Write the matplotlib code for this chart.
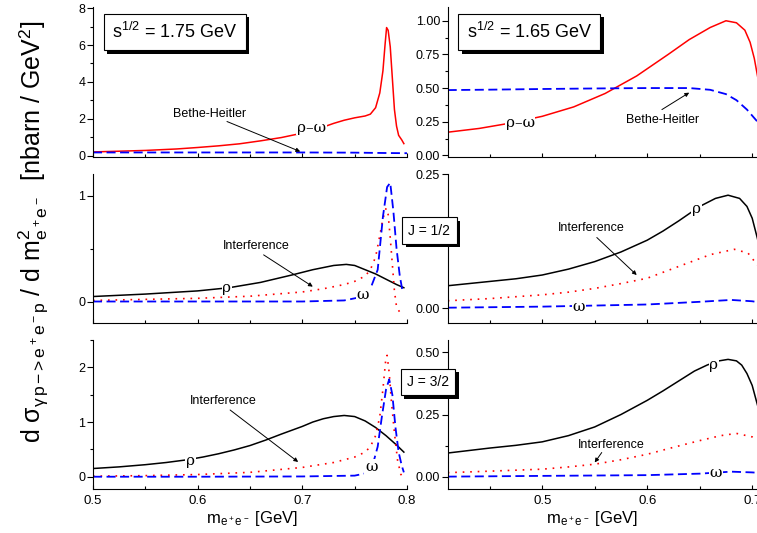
import matplotlib
matplotlib.use("Agg")
import matplotlib.pyplot as plt
import matplotlib.patheffects as pe
from matplotlib.ticker import MultipleLocator, FormatStrFormatter

plt.rcParams['font.family'] = ['Liberation Sans', 'DejaVu Sans']
plt.rcParams['mathtext.fontset'] = 'custom'
plt.rcParams['mathtext.rm'] = 'Liberation Sans'
plt.rcParams['mathtext.it'] = 'Liberation Sans'
plt.rcParams['mathtext.bf'] = 'Liberation Sans:bold'

# ---------------- data ----------------
# Panel A: sqrt(s)=1.75 GeV, total
a_rw_x = [0.50, 0.52, 0.55, 0.58, 0.60, 0.62, 0.64, 0.66, 0.68, 0.70, 0.72, 0.73, 0.74, 0.75, 0.76, 0.765,
          0.77, 0.774, 0.777, 0.779, 0.7805, 0.782, 0.784, 0.786, 0.788, 0.790, 0.792, 0.795, 0.797]
a_rw_y = [0.20, 0.23, 0.28, 0.36, 0.44, 0.53, 0.64, 0.80, 0.98, 1.22, 1.55, 1.75, 1.92, 2.05, 2.15, 2.25,
          2.6, 3.4, 4.6, 6.0, 6.95, 6.8, 5.9, 4.2, 2.5, 1.6, 1.1, 0.85, 0.65]
a_bh_x = [0.50, 0.60, 0.70, 0.75, 0.78, 0.80]
a_bh_y = [0.17, 0.17, 0.17, 0.16, 0.14, 0.13]

# Panel B: sqrt(s)=1.65 GeV, total
b_rw_x = [0.41, 0.44, 0.47, 0.50, 0.53, 0.56, 0.59, 0.62, 0.64, 0.66, 0.675, 0.685, 0.693, 0.698, 0.702, 0.706, 0.71]
b_rw_y = [0.172, 0.20, 0.24, 0.29, 0.36, 0.46, 0.59, 0.75, 0.86, 0.95, 1.00, 0.985, 0.93, 0.84, 0.72, 0.55, 0.38]
b_bh_x = [0.41, 0.45, 0.50, 0.55, 0.60, 0.64, 0.66, 0.675, 0.685, 0.695, 0.705, 0.71]
b_bh_y = [0.485, 0.488, 0.493, 0.497, 0.50, 0.50, 0.487, 0.455, 0.41, 0.34, 0.25, 0.20]

# Panel C: 1.75 GeV, J=1/2
c_rho_x = [0.50, 0.55, 0.60, 0.63, 0.66, 0.69, 0.71, 0.73, 0.742, 0.75, 0.76, 0.77, 0.78, 0.79, 0.797]
c_rho_y = [0.047, 0.07, 0.10, 0.13, 0.18, 0.25, 0.30, 0.34, 0.35, 0.34, 0.30, 0.26, 0.21, 0.16, 0.13]
c_int_x = [0.50, 0.55, 0.60, 0.65, 0.70, 0.72, 0.74, 0.75, 0.76, 0.765, 0.77, 0.774, 0.777, 0.780,
           0.782, 0.784, 0.786, 0.788, 0.790, 0.793, 0.795]
c_int_y = [0.01, 0.02, 0.03, 0.05, 0.09, 0.12, 0.16, 0.19, 0.24, 0.30, 0.42, 0.62, 0.78, 0.88,
           0.82, 0.60, 0.35, 0.10, -0.05, -0.10, -0.09]
c_om_x = [0.50, 0.60, 0.70, 0.74, 0.755, 0.765, 0.772, 0.777, 0.781, 0.784, 0.787, 0.790, 0.793, 0.796]
c_om_y = [0.0, 0.0, 0.0, 0.01, 0.04, 0.12, 0.30, 0.80, 1.08, 1.12, 0.85, 0.50, 0.25, 0.08]

# Panel D: 1.65 GeV, J=1/2
d_rho_x = [0.41, 0.43, 0.45, 0.475, 0.50, 0.525, 0.55, 0.575, 0.60, 0.615, 0.63, 0.65, 0.665, 0.677,
           0.688, 0.695, 0.70, 0.705, 0.71]
d_rho_y = [0.042, 0.046, 0.050, 0.055, 0.062, 0.073, 0.087, 0.105, 0.127, 0.144, 0.163, 0.19, 0.205, 0.211,
           0.205, 0.19, 0.168, 0.13, 0.085]
d_int_x = [0.41, 0.45, 0.50, 0.525, 0.55, 0.575, 0.60, 0.63, 0.66, 0.683, 0.696, 0.706, 0.71]
d_int_y = [0.014, 0.018, 0.025, 0.030, 0.037, 0.046, 0.056, 0.078, 0.10, 0.11, 0.103, 0.078, 0.065]
d_om_x = [0.41, 0.50, 0.60, 0.65, 0.68, 0.70, 0.71]
d_om_y = [0.001, 0.003, 0.007, 0.012, 0.0155, 0.013, 0.010]

# Panel E: 1.75 GeV, J=3/2
e_rho_x = [0.50, 0.525, 0.55, 0.57, 0.59, 0.605, 0.62, 0.635, 0.65, 0.665, 0.68, 0.69, 0.70, 0.71, 0.72,
           0.73, 0.74, 0.75, 0.76, 0.77, 0.78, 0.79, 0.797]
e_rho_y = [0.15, 0.18, 0.22, 0.26, 0.31, 0.36, 0.42, 0.49, 0.57, 0.67, 0.78, 0.85, 0.92, 1.00, 1.06,
           1.10, 1.12, 1.10, 1.02, 0.90, 0.75, 0.58, 0.45]
e_int_x = [0.50, 0.55, 0.60, 0.65, 0.70, 0.73, 0.75, 0.76, 0.765, 0.77, 0.774, 0.777, 0.7795, 0.781,
           0.783, 0.785, 0.788, 0.791, 0.794, 0.797]
e_int_y = [0.01, 0.02, 0.04, 0.08, 0.17, 0.26, 0.36, 0.45, 0.55, 0.75, 1.10, 1.60, 2.10, 2.22,
           1.90, 1.40, 0.80, 0.30, 0.05, -0.05]
e_om_x = [0.50, 0.60, 0.70, 0.75, 0.76, 0.767, 0.772, 0.776, 0.780, 0.783, 0.786, 0.789, 0.792, 0.795, 0.797]
e_om_y = [0.0, 0.0, 0.005, 0.02, 0.06, 0.20, 0.55, 1.10, 1.60, 1.78, 1.50, 0.90, 0.45, 0.20, 0.08]

# Panel F: 1.65 GeV, J=3/2
f_rho_x = [0.41, 0.43, 0.45, 0.475, 0.50, 0.525, 0.55, 0.575, 0.60, 0.615, 0.63, 0.645, 0.657, 0.667,
           0.677, 0.685, 0.69, 0.695, 0.70, 0.706, 0.71]
f_rho_y = [0.095, 0.105, 0.115, 0.126, 0.14, 0.165, 0.20, 0.25, 0.307, 0.345, 0.385, 0.425, 0.449, 0.465,
           0.472, 0.466, 0.449, 0.415, 0.367, 0.273, 0.20]
f_int_x = [0.41, 0.45, 0.50, 0.525, 0.55, 0.575, 0.60, 0.625, 0.65, 0.67, 0.685, 0.70, 0.71]
f_int_y = [0.016, 0.022, 0.03, 0.039, 0.05, 0.068, 0.09, 0.118, 0.145, 0.165, 0.174, 0.16, 0.135]
f_om_x = [0.41, 0.50, 0.60, 0.65, 0.68, 0.70, 0.71]
f_om_y = [0.0, 0.003, 0.006, 0.012, 0.020, 0.017, 0.014]

energy_labels = [r"s$^{1/2}$ = 1.75 GeV", r"s$^{1/2}$ = 1.65 GeV"]
spin_labels = ["J = 1/2", "J = 3/2"]
xticks_left = [0.5, 0.6, 0.7, 0.8]
xticks_right = [0.5, 0.6, 0.7]

# ---------------- figure ----------------
W, H = 757, 533
fig = plt.figure(figsize=(W / 100, H / 100), dpi=100)

def px_axes(x0, y0, x1, y1):
    return fig.add_axes([x0 / W, 1 - y1 / H, (x1 - x0) / W, (y1 - y0) / H])

colL = (93, 407)
colR = (447.7, 762.7)
rows = [(7.3, 156.7), (174.3, 322.7), (340, 489.3)]

axes = [[px_axes(colL[0], r[0], colL[1], r[1]), px_axes(colR[0], r[0], colR[1], r[1])] for r in rows]

RED = '#ff0000'
BLUE = '#0000ff'
dash = (0, (5, 2.5))
dot = (0, (1, 3.5))

for i, row in enumerate(axes):
    for j, ax in enumerate(row):
        ax.spines['top'].set_visible(False)
        ax.spines['right'].set_visible(False)
        ax.spines['left'].set_linewidth(0.8)
        ax.spines['bottom'].set_linewidth(0.8)
        ax.tick_params(axis='y', direction='out', length=4, width=0.8, labelsize=9, pad=1.5)
        ax.tick_params(axis='y', which='minor', direction='out', length=2.5, width=0.8)
        ax.tick_params(axis='x', direction='in', length=3, width=0.8, labelsize=9.5, pad=4)
        ax.tick_params(axis='x', which='minor', direction='in', length=2, width=0.8)
        ax.xaxis.set_minor_locator(MultipleLocator(0.05))
        if j == 0:
            ax.set_xlim(0.5, 0.8)
            ax.set_xticks(xticks_left)
            ax.set_xticklabels([f"{v:.1f}" for v in xticks_left])
        else:
            ax.set_xlim(0.41, 0.71)
            ax.set_xticks(xticks_right)
            ax.set_xticklabels([f"{v:.1f}" for v in xticks_right])
        if i < 2:
            ax.tick_params(axis='x', labelbottom=False)

lbl_bg = dict(boxstyle='square,pad=0.05', fc='white', ec='none')
greek = dict(family=['DejaVu Serif'], fontsize=11)
arrow = dict(arrowstyle='-|>', lw=0.7, color='k', mutation_scale=6, shrinkA=0, shrinkB=0)

def boxed(ax, x, y, s, fs):
    t = ax.text(x, y, s, transform=ax.transAxes, fontsize=fs, ha='left', va='center',
                bbox=dict(boxstyle='square,pad=0.45', fc='white', ec='black', lw=0.8), zorder=10)
    t.get_bbox_patch().set_path_effects([pe.SimplePatchShadow(offset=(2.5, -2.5), shadow_rgbFace='black', alpha=1.0), pe.Normal()])
    return t

# Panel A
ax = axes[0][0]
ax.plot(a_rw_x, a_rw_y, color=RED, lw=1.1)
ax.plot(a_bh_x, a_bh_y, color=BLUE, lw=1.3, linestyle=dash)
ax.set_ylim(-0.06, 8.05)
ax.yaxis.set_major_locator(MultipleLocator(2))
ax.yaxis.set_minor_locator(MultipleLocator(1))
ax.text(0.611, 2.25, "Bethe-Heitler", fontsize=9, ha='center', va='center')
ax.annotate('', xy=(0.698, 0.22), xytext=(0.628, 1.85), arrowprops=arrow)
ax.text(0.709, 1.52, "ρ–ω", ha='center', va='center', bbox=lbl_bg, **greek)
boxed(ax, 0.06, 0.835, energy_labels[0], 13)

# Panel B
ax = axes[0][1]
ax.plot(b_rw_x, b_rw_y, color=RED, lw=1.1)
ax.plot(b_bh_x, b_bh_y, color=BLUE, lw=1.3, linestyle=dash)
ax.set_ylim(-0.01, 1.10)
ax.yaxis.set_major_locator(MultipleLocator(0.25))
ax.yaxis.set_minor_locator(MultipleLocator(0.125))
ax.yaxis.set_major_formatter(FormatStrFormatter('%.2f'))
ax.text(0.615, 0.259, "Bethe-Heitler", fontsize=9, ha='center', va='center')
ax.annotate('', xy=(0.64, 0.466), xytext=(0.614, 0.34), arrowprops=arrow)
ax.text(0.479, 0.242, "ρ–ω", ha='center', va='center', bbox=lbl_bg, **greek)
boxed(ax, 0.06, 0.835, energy_labels[1], 13)

# Panel C
ax = axes[1][0]
ax.plot(c_rho_x, c_rho_y, color='black', lw=1.1)
ax.plot(c_int_x, c_int_y, color=RED, lw=1.2, linestyle=dot)
ax.plot(c_om_x, c_om_y, color=BLUE, lw=1.3, linestyle=dash)
ax.set_ylim(-0.2, 1.2)
ax.yaxis.set_major_locator(MultipleLocator(1))
ax.yaxis.set_minor_locator(MultipleLocator(0.5))
ax.text(0.656, 0.525, "Interference", fontsize=9, ha='center', va='center')
ax.annotate('', xy=(0.71, 0.14), xytext=(0.663, 0.44), arrowprops=arrow)
ax.text(0.628, 0.13, "ρ", ha='center', va='center', bbox=lbl_bg, **greek)
ax.text(0.758, 0.06, "ω", ha='center', va='center', bbox=lbl_bg, **greek)
boxed(axes[1][1], -0.125, 0.62, spin_labels[0], 10)

# Panel D
ax = axes[1][1]
ax.plot(d_rho_x, d_rho_y, color='black', lw=1.1)
ax.plot(d_int_x, d_int_y, color=RED, lw=1.2, linestyle=dot)
ax.plot(d_om_x, d_om_y, color=BLUE, lw=1.3, linestyle=dash)
ax.set_ylim(-0.027, 0.25)
ax.yaxis.set_major_locator(MultipleLocator(0.25))
ax.yaxis.set_minor_locator(MultipleLocator(0.125))
ax.yaxis.set_major_formatter(FormatStrFormatter('%.2f'))
ax.text(0.547, 0.15, "Interference", fontsize=9, ha='center', va='center')
ax.annotate('', xy=(0.59, 0.062), xytext=(0.552, 0.132), arrowprops=arrow)
ax.text(0.647, 0.185, "ρ", ha='center', va='center', bbox=lbl_bg, **greek)
ax.text(0.535, 0.003, "ω", ha='center', va='center', bbox=lbl_bg, **greek)

# Panel E
ax = axes[2][0]
ax.plot(e_rho_x, e_rho_y, color='black', lw=1.1)
ax.plot(e_int_x, e_int_y, color=RED, lw=1.2, linestyle=dot)
ax.plot(e_om_x, e_om_y, color=BLUE, lw=1.3, linestyle=dash)
ax.set_ylim(-0.23, 2.5)
ax.yaxis.set_major_locator(MultipleLocator(1))
ax.yaxis.set_minor_locator(MultipleLocator(0.5))
ax.text(0.624, 1.38, "Interference", fontsize=9, ha='center', va='center')
ax.annotate('', xy=(0.696, 0.27), xytext=(0.631, 1.22), arrowprops=arrow)
ax.text(0.593, 0.29, "ρ", ha='center', va='center', bbox=lbl_bg, **greek)
ax.text(0.766, 0.18, "ω", ha='center', va='center', bbox=lbl_bg, **greek)
boxed(axes[2][1], -0.13, 0.72, spin_labels[1], 10)

# Panel F
ax = axes[2][1]
ax.plot(f_rho_x, f_rho_y, color='black', lw=1.1)
ax.plot(f_int_x, f_int_y, color=RED, lw=1.2, linestyle=dot)
ax.plot(f_om_x, f_om_y, color=BLUE, lw=1.3, linestyle=dash)
ax.set_ylim(-0.051, 0.55)
ax.yaxis.set_major_locator(MultipleLocator(0.25))
ax.yaxis.set_minor_locator(MultipleLocator(0.125))
ax.yaxis.set_major_formatter(FormatStrFormatter('%.2f'))
ax.text(0.5656, 0.128, "Interference", fontsize=9, ha='center', va='center')
ax.annotate('', xy=(0.55, 0.057), xytext=(0.5567, 0.097), arrowprops=arrow)
ax.text(0.6635, 0.45, "ρ", ha='center', va='center', bbox=lbl_bg, **greek)
ax.text(0.6655, 0.016, "ω", ha='center', va='center', bbox=lbl_bg, **greek)

# axis labels
xlab = r"m$_{e^+e^-}$ [GeV]"
fig.text(252 / W, 1 - 519 / H, xlab, fontsize=12, ha='center', va='center')
fig.text(592 / W, 1 - 519 / H, xlab, fontsize=12, ha='center', va='center')
fig.text(33 / W, 1 - 232 / H,
         r"d $\sigma_{\gamma\, p\, \mathrm{->} e^+e^-p}$ / d m$^2_{e^+e^-}$  [nbarn / GeV$^2$]",
         fontsize=18, rotation=90, ha='center', va='center')

fig.savefig("out.png", dpi=100)
